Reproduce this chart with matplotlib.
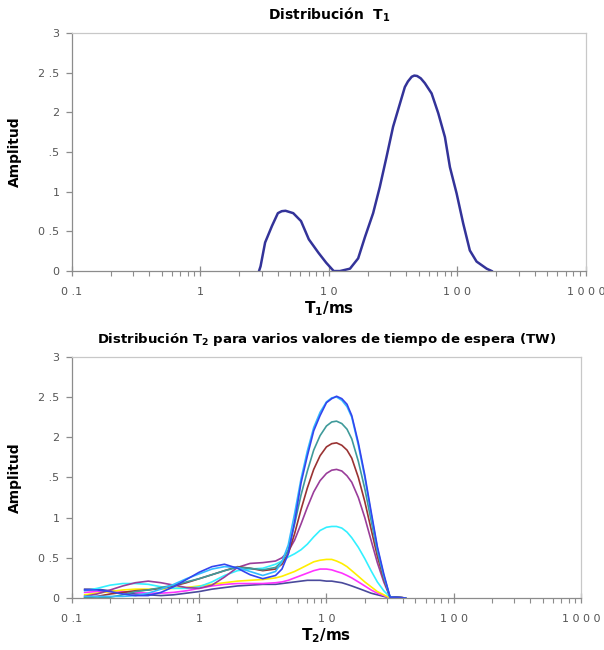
import matplotlib
matplotlib.use("Agg")
import matplotlib.pyplot as plt
from matplotlib.ticker import FixedLocator, LogLocator, NullFormatter

# ---- T1 distribution ----
t1_ms = [2.86, 2.94, 3.19, 3.61, 4.01, 4.30, 4.60, 5.28, 6.07, 6.98, 8.30, 9.53,
         10.9, 12.2, 14.6, 16.9, 19.1, 22.1, 24.9, 28.1, 31.6, 35.7, 39.0, 41.2,
         44.1, 46.2, 48.6, 51.9, 55.8, 63.0, 71.0, 80.0, 87.5, 98.6, 111, 125,
         141, 169, 185]
t1_amp = [0.0, 0.06, 0.36, 0.57, 0.73, 0.755, 0.76, 0.73, 0.63, 0.40, 0.23, 0.105,
          0.0, 0.0, 0.03, 0.16, 0.43, 0.73, 1.06, 1.44, 1.82, 2.11, 2.32, 2.39,
          2.45, 2.465, 2.46, 2.43, 2.37, 2.24, 1.99, 1.69, 1.31, 0.98, 0.60, 0.26,
          0.12, 0.03, 0.0]

# ---- T2 distributions, one per wait time ----
t2_ms = [0.126, 0.158, 0.200, 0.251, 0.316, 0.398, 0.501, 0.631, 0.794, 1.00,
         1.26, 1.58, 2.00, 2.51, 3.16, 3.98, 4.47, 5.01, 5.62, 6.31, 7.08, 7.94,
         8.91, 10.0, 11.0, 12.0, 13.2, 14.5, 15.8, 17.8, 20.0, 22.4, 25.1, 28.2,
         31.6, 35.5, 41.7]

tw_navy = [0.11, 0.11, 0.09, 0.07, 0.05, 0.04, 0.03, 0.04, 0.06, 0.08,
           0.11, 0.13, 0.15, 0.16, 0.17, 0.17, 0.18, 0.19, 0.20, 0.21, 0.22, 0.22,
           0.22, 0.21, 0.21, 0.20, 0.19, 0.17, 0.15, 0.12, 0.09, 0.06, 0.04, 0.02,
           0.0, 0.01, 0.0]
tw_magenta = [0.07, 0.08, 0.08, 0.08, 0.07, 0.06, 0.06, 0.07, 0.09, 0.12,
              0.15, 0.17, 0.18, 0.18, 0.18, 0.19, 0.20, 0.22, 0.25, 0.28, 0.31, 0.34,
              0.36, 0.36, 0.35, 0.33, 0.31, 0.28, 0.25, 0.20, 0.15, 0.10, 0.06, 0.03,
              0.0, 0.01, 0.0]
tw_yellow = [0.04, 0.06, 0.08, 0.10, 0.11, 0.11, 0.11, 0.12, 0.13, 0.15,
             0.17, 0.19, 0.21, 0.22, 0.23, 0.25, 0.27, 0.30, 0.33, 0.37, 0.41, 0.45,
             0.47, 0.48, 0.48, 0.46, 0.43, 0.39, 0.34, 0.27, 0.20, 0.14, 0.08, 0.04,
             0.0, 0.01, 0.0]
tw_cyan = [0.09, 0.12, 0.16, 0.18, 0.18, 0.17, 0.14, 0.12, 0.12, 0.14,
           0.20, 0.28, 0.34, 0.36, 0.37, 0.42, 0.46, 0.51, 0.55, 0.60, 0.67, 0.76,
           0.84, 0.88, 0.89, 0.89, 0.87, 0.82, 0.75, 0.63, 0.49, 0.34, 0.20, 0.09,
           0.01, 0.01, 0.0]
tw_purple = [0.02, 0.05, 0.10, 0.15, 0.19, 0.21, 0.19, 0.16, 0.13, 0.12,
             0.16, 0.26, 0.38, 0.43, 0.44, 0.46, 0.50, 0.58, 0.72, 0.92, 1.13, 1.32,
             1.46, 1.55, 1.59, 1.60, 1.58, 1.52, 1.44, 1.25, 1.00, 0.72, 0.44, 0.20,
             0.01, 0.01, 0.0]
tw_brown = [0.0, 0.02, 0.05, 0.07, 0.09, 0.10, 0.12, 0.15, 0.19, 0.24,
            0.29, 0.34, 0.39, 0.37, 0.34, 0.36, 0.42, 0.55, 0.80, 1.10, 1.37, 1.60,
            1.77, 1.88, 1.92, 1.93, 1.90, 1.84, 1.74, 1.50, 1.20, 0.86, 0.52, 0.24,
            0.01, 0.01, 0.0]
tw_teal = [0.0, 0.0, 0.01, 0.04, 0.08, 0.10, 0.13, 0.16, 0.20, 0.24,
           0.29, 0.34, 0.38, 0.37, 0.35, 0.38, 0.45, 0.60, 0.92, 1.28, 1.58, 1.84,
           2.02, 2.14, 2.19, 2.20, 2.17, 2.10, 1.98, 1.70, 1.36, 0.97, 0.58, 0.26,
           0.01, 0.01, 0.0]
tw_skyblue = [0.02, 0.02, 0.02, 0.02, 0.03, 0.06, 0.11, 0.17, 0.24, 0.30,
              0.36, 0.39, 0.38, 0.33, 0.28, 0.33, 0.45, 0.66, 1.05, 1.48, 1.83, 2.12,
              2.31, 2.44, 2.49, 2.50, 2.46, 2.38, 2.25, 1.90, 1.50, 1.05, 0.62, 0.28,
              0.01, 0.0, 0.0]
tw_blue = [0.10, 0.10, 0.08, 0.05, 0.03, 0.03, 0.07, 0.14, 0.23, 0.32,
           0.39, 0.42, 0.37, 0.29, 0.24, 0.28, 0.36, 0.55, 0.95, 1.43, 1.77, 2.08,
           2.27, 2.43, 2.48, 2.51, 2.48, 2.41, 2.27, 1.93, 1.53, 1.08, 0.64, 0.30,
           0.01, 0.01, 0.0]

t2_series = [
    (tw_navy, "#4a4a9c"),
    (tw_magenta, "#ff33ff"),
    (tw_yellow, "#ffee00"),
    (tw_cyan, "#33f0ff"),
    (tw_purple, "#9a3d9a"),
    (tw_brown, "#9a3333"),
    (tw_teal, "#3f9a9a"),
    (tw_skyblue, "#33bbff"),
    (tw_blue, "#3344ee"),
]

x_ticks = [0.1, 1, 10, 100, 1000]
x_labels = ["0 .1", "1", "1 0", "1 0 0", "1 0 0 0"]
y_ticks = [0, 0.5, 1, 1.5, 2, 2.5, 3]
y_labels = ["0", "0 .5", "1", " .5", "2", "2 .5", "3"]

GRAY = "#8c8c8c"
TICK_TXT = "#555555"

fig = plt.figure(figsize=(6.04, 6.50), dpi=100)
ax1 = fig.add_axes([0.119, 0.583, 0.851, 0.366])
ax2 = fig.add_axes([0.119, 0.080, 0.843, 0.371])


def style_axes(ax, sub):
    ax.set_xscale("log")
    ax.set_xlim(0.1, 1000)
    ax.set_ylim(0, 3)
    ax.xaxis.set_major_locator(FixedLocator(x_ticks))
    ax.xaxis.set_minor_locator(LogLocator(base=10, subs=range(2, 10), numticks=20))
    ax.xaxis.set_minor_formatter(NullFormatter())
    ax.set_xticklabels(x_labels)
    ax.yaxis.set_major_locator(FixedLocator(y_ticks))
    ax.set_yticklabels(y_labels)
    for s in ax.spines.values():
        s.set_color(GRAY)
        s.set_linewidth(0.9)
    ax.spines["top"].set_color("#c8c8c8")
    ax.spines["right"].set_color("#c8c8c8")
    ax.tick_params(axis="x", which="major", direction="inout", length=7,
                   width=0.9, color=GRAY, labelsize=8, labelcolor=TICK_TXT, pad=8)
    ax.tick_params(axis="x", which="minor", direction="out", length=3.5,
                   width=0.8, color=GRAY)
    ax.tick_params(axis="y", which="major", direction="out", length=4,
                   width=0.9, color=GRAY, labelsize=8, labelcolor=TICK_TXT, pad=5)
    ax.set_ylabel("Amplitud", fontsize=10, fontweight="bold", labelpad=12)
    ax.set_xlabel(r"$\mathbf{T_%s}$/ms" % sub, fontsize=11, fontweight="bold",
                  labelpad=2)


style_axes(ax1, "1")
ax1.plot(t1_ms, t1_amp, color="#333399", lw=1.8)
ax1.set_title(r"Distribución  $\mathbf{T_1}$", fontsize=10, fontweight="bold", pad=10)

style_axes(ax2, "2")
for amps, col in t2_series:
    ax2.plot(t2_ms, amps, color=col, lw=1.2)
ax2.set_title(r"Distribución $\mathbf{T_2}$ para varios valores de tiempo de espera (TW)",
              fontsize=9.5, fontweight="bold", pad=10)

fig.savefig("out.png", dpi=100)
